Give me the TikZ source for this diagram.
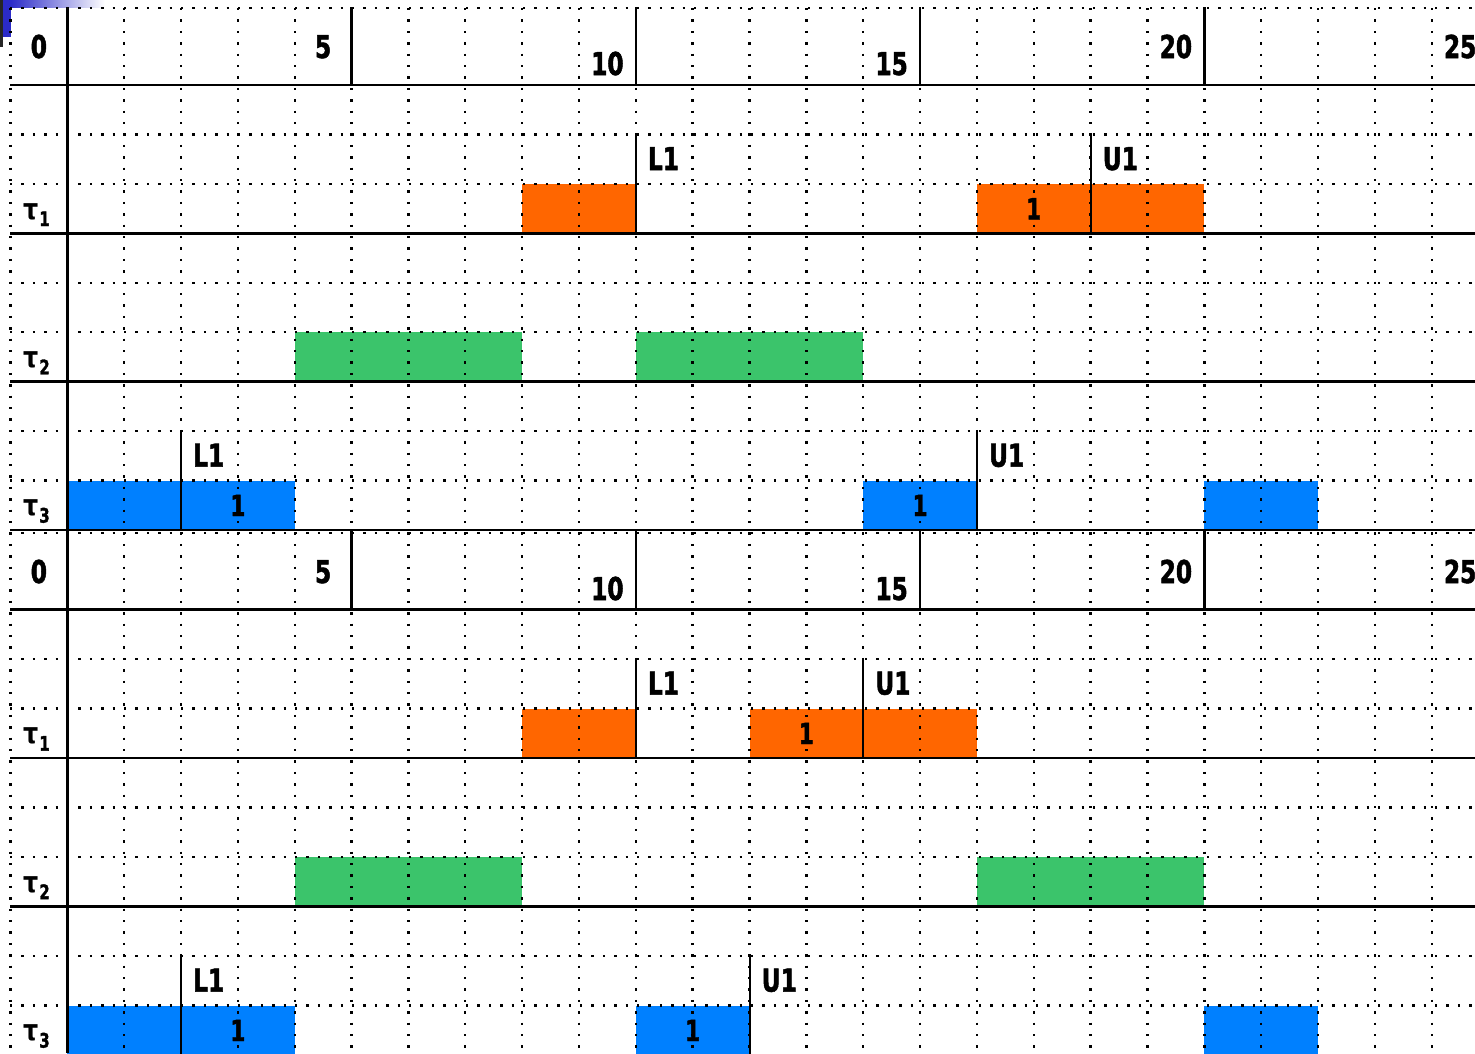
\documentclass[tikz,border=0pt]{standalone}
\usepackage{fontspec}
\newfontfamily\numfont{DejaVu Sans}[UprightFont=* Bold,FakeStretch=0.74,FakeBold=1.6]
\newfontfamily\taufont{DejaVu Sans}[UprightFont=* Bold,FakeStretch=0.82]
\definecolor{ora}{HTML}{FF6600}
\definecolor{grn}{HTML}{3BC46B}
\definecolor{blu}{HTML}{0080FF}
\definecolor{slideblue}{HTML}{2B2BC8}
\def\ox{67.3}
\def\ux{56.85}
\tikzset{
  dotline/.style={line width=2.4pt, dash pattern=on 2.4pt off 9pt},
  solidline/.style={line width=2.5pt},
  evline/.style={line width=2pt},
  numlbl/.style={font=\numfont\fontsize{31.5}{36}\selectfont, inner sep=0pt, anchor=base},
  evlbl/.style={numlbl, anchor=base west},
  onelbl/.style={font=\numfont\fontsize{29}{34}\selectfont, inner sep=0pt, anchor=base},
  tasklbl/.style={inner sep=0pt, anchor=base west},
}
\newcommand\taulbl[1]{{\taufont\fontsize{29}{34}\selectfont τ}\kern1pt\raisebox{-7pt}{\numfont\fontsize{20}{24}\selectfont #1}}
\begin{document}
\begin{tikzpicture}[x=1pt,y=-1pt]
\useasboundingbox (0,0) rectangle (1475,1053);
\fill[white] (0,0) rectangle (1475,1053);
% slide corner artifact
\shade[left color=slideblue, right color=white] (10.5,0) rectangle (105,7);
\fill[slideblue] (3.3,0) rectangle (10.5,37);
\fill[black!85] (0,0) rectangle (3.3,47);

% ---------- boxes (top chart) ----------
\fill[ora] ({\ox+\ux*8},183.9) rectangle ({\ox+\ux*10},233.3);
\fill[ora] ({\ox+\ux*16},183.9) rectangle ({\ox+\ux*20},233.3);
\fill[grn] ({\ox+\ux*4},332.2) rectangle ({\ox+\ux*8},381.7);
\fill[grn] ({\ox+\ux*10},332.2) rectangle ({\ox+\ux*14},381.7);
\fill[blu] ({\ox+\ux*0},480.6) rectangle ({\ox+\ux*4},530);
\fill[blu] ({\ox+\ux*14},480.6) rectangle ({\ox+\ux*16},530);
\fill[blu] ({\ox+\ux*20},480.6) rectangle ({\ox+\ux*22},530);
% ---------- boxes (bottom chart) ----------
\fill[ora] ({\ox+\ux*8},708.5) rectangle ({\ox+\ux*10},758);
\fill[ora] ({\ox+\ux*12},708.5) rectangle ({\ox+\ux*16},758);
\fill[grn] ({\ox+\ux*4},857) rectangle ({\ox+\ux*8},906.5);
\fill[grn] ({\ox+\ux*16},857) rectangle ({\ox+\ux*20},906.5);
\fill[blu] ({\ox+\ux*0},1005.5) rectangle ({\ox+\ux*4},1055);
\fill[blu] ({\ox+\ux*10},1005.5) rectangle ({\ox+\ux*12},1055);
\fill[blu] ({\ox+\ux*20},1005.5) rectangle ({\ox+\ux*22},1055);

% ---------- dotted grid ----------
\foreach \t in {-1,...,24}
  \draw[dotline] ({\ox+\ux*\t},8) -- ({\ox+\ux*\t},1053);
\foreach \y in {8,134.4,183.9,282.8,332.2,431.1,480.6,533,659,708.5,807.5,857,956,1005.5}
  \draw[dotline] (10,\y) -- (1475,\y);

% ---------- solid lines ----------
\foreach \y in {85,233.3,381.7,530,609.5,758,906.5}
  \draw[solidline] (10,\y) -- (1475,\y);
\draw[solidline] (\ox,7) -- (\ox,1053);
\foreach \t in {5,10,15,20} {
  \draw[solidline] ({\ox+\ux*\t},7) -- ({\ox+\ux*\t},85);
  \draw[solidline] ({\ox+\ux*\t},530) -- ({\ox+\ux*\t},609.5);
}

% ---------- time labels ----------
\foreach \t/\b in {0/58,5/58,10/75,15/75,20/58,25/58} {
  \node[numlbl] (ha\t) at ({\ox+\ux*(\t-0.5)},\b) {\t};
  \node[numlbl] (hb\t) at ({\ox+\ux*(\t-0.5)},\b+525) {\t};
}

% ---------- task labels ----------
\node[tasklbl] (ta1) at (23,219) {\taulbl{1}};
\node[tasklbl] (ta2) at (23,367.3) {\taulbl{2}};
\node[tasklbl] (ta3) at (23,515.6) {\taulbl{3}};
\node[tasklbl] (tb1) at (23,743.6) {\taulbl{1}};
\node[tasklbl] (tb2) at (23,892.1) {\taulbl{2}};
\node[tasklbl] (tb3) at (23,1040.6) {\taulbl{3}};

% ---------- lock / unlock markers ----------
\foreach \t/\top/\bot/\txt/\nm in {10/134.4/233.3/L1/a1, 18/134.4/233.3/U1/a2,
    2/431.1/530/L1/a3, 16/431.1/530/U1/a4,
    10/659/758/L1/b1, 14/659/758/U1/b2,
    2/956/1055/L1/b3, 12/956/1055/U1/b4} {
  \draw[evline] ({\ox+\ux*\t},\top) -- ({\ox+\ux*\t},\bot);
  \node[evlbl] (ev\nm) at ({\ox+\ux*\t+12},\top+35.6) {\txt};
}

% ---------- resource numbers in boxes ----------
\node[onelbl] (ra1) at ({\ox+\ux*17},219.3) {1};
\node[onelbl] (ra2) at ({\ox+\ux*3},516) {1};
\node[onelbl] (ra3) at ({\ox+\ux*15},516) {1};
\node[onelbl] (rb1) at ({\ox+\ux*13},744) {1};
\node[onelbl] (rb2) at ({\ox+\ux*3},1041) {1};
\node[onelbl] (rb3) at ({\ox+\ux*11},1041) {1};
\end{tikzpicture}
\end{document}
